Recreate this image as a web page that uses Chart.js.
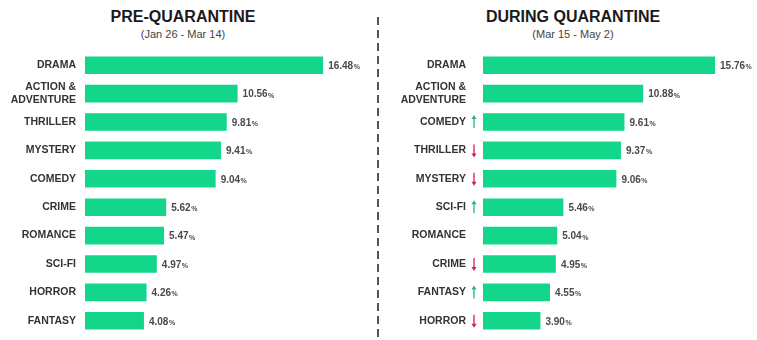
<!DOCTYPE html>
<html>
<head>
<meta charset="utf-8">
<script src="https://cdn.jsdelivr.net/npm/chart.js@4"></script>
<style>
  body { margin: 0; background: #fff; }
  #wrap { position: relative; width: 757px; height: 340px; overflow: hidden; font-family: "Liberation Sans", Arial, sans-serif; }
  canvas { position: absolute; top: 0; }
  #left { left: 0; }
  #right { left: 380px; }
  .title { position: absolute; top: 8px; font-weight: bold; font-size: 16px; color: #1a1a1a; text-align: center; width: 300px; }
  .sub { position: absolute; top: 28px; font-size: 11px; color: #444; text-align: center; width: 300px; }
  #divider { position: absolute; left: 377px; top: 17px; width: 2px; height: 323px;
    background: repeating-linear-gradient(to bottom, #555 0 8px, transparent 8px 13px); }
</style>
</head>
<body>
<div id="wrap">
  <div class="title" style="left:33px">PRE-QUARANTINE</div>
  <div class="sub" style="left:33px">(Jan 26 - Mar 14)</div>
  <div class="title" style="left:423px">DURING QUARANTINE</div>
  <div class="sub" style="left:423px">(Mar 15 - May 2)</div>
  <div id="divider"></div>
  <canvas id="left" width="379" height="340"></canvas>
  <canvas id="right" width="377" height="340"></canvas>
</div>
<script>
// Share of viewing by genre, before and during quarantine
const preGenres = ['DRAMA', ['ACTION &', 'ADVENTURE'], 'THRILLER', 'MYSTERY', 'COMEDY', 'CRIME', 'ROMANCE', 'SCI-FI', 'HORROR', 'FANTASY'];
const preValues = [16.48, 10.56, 9.81, 9.41, 9.04, 5.62, 5.47, 4.97, 4.26, 4.08];

const duringGenres = ['DRAMA', ['ACTION &', 'ADVENTURE'], 'COMEDY', 'THRILLER', 'MYSTERY', 'SCI-FI', 'ROMANCE', 'CRIME', 'FANTASY', 'HORROR'];
const duringValues = [15.76, 10.88, 9.61, 9.37, 9.06, 5.46, 5.04, 4.95, 4.55, 3.90];
// 1 = moved up in rank, -1 = moved down, 0 = no marker
const duringTrend = [0, 0, 1, -1, -1, 1, 0, -1, 1, -1];

const BAR = '#14d68b';
const FONT = '"Liberation Sans", Arial, sans-serif';

// value text after each bar, with a smaller percent sign
const valueLabels = {
  id: 'valueLabels',
  afterDatasetsDraw(chart) {
    const ctx = chart.ctx;
    const meta = chart.getDatasetMeta(0);
    const data = chart.data.datasets[0].data;
    ctx.save();
    ctx.textBaseline = 'middle';
    ctx.fillStyle = '#4a4a4a';
    meta.data.forEach((bar, i) => {
      const txt = data[i].toFixed(2);
      const x = bar.x + 5;
      const y = bar.y + 1;
      ctx.font = 'bold 10px ' + FONT;
      ctx.fillText(txt, x, y);
      const w = ctx.measureText(txt).width;
      ctx.font = 'bold 7px ' + FONT;
      ctx.fillText('%', x + w + 0.5, y + 1);
    });
    ctx.restore();
  }
};

// up/down arrows between the genre name and the bar
const trendArrows = {
  id: 'trendArrows',
  afterDatasetsDraw(chart, args, opts) {
    if (!opts.trend) return;
    const ctx = chart.ctx;
    const meta = chart.getDatasetMeta(0);
    const x = chart.chartArea.left - 9;
    ctx.save();
    ctx.lineWidth = 1.3;
    meta.data.forEach((bar, i) => {
      const t = opts.trend[i];
      if (!t) return;
      const col = t > 0 ? '#1fb58c' : '#d41d55';
      const tip = bar.y - t * 7;
      const tail = bar.y + t * 6;
      ctx.strokeStyle = col;
      ctx.fillStyle = col;
      ctx.beginPath();
      ctx.moveTo(x, tail);
      ctx.lineTo(x, tip + t * 3);
      ctx.stroke();
      ctx.beginPath();
      ctx.moveTo(x, tip);
      ctx.lineTo(x - 2.5, tip + t * 4);
      ctx.lineTo(x + 2.5, tip + t * 4);
      ctx.closePath();
      ctx.fill();
    });
    ctx.restore();
  }
};

function makeChart(id, labels, values, opts) {
  return new Chart(document.getElementById(id).getContext('2d'), {
    type: 'bar',
    data: {
      labels: labels,
      datasets: [{
        data: values,
        backgroundColor: BAR,
        barPercentage: 0.62,
        categoryPercentage: 1
      }]
    },
    options: {
      indexAxis: 'y',
      responsive: false,
      animation: false,
      layout: { padding: { top: 51, bottom: 5, right: opts.padRight } },
      plugins: {
        legend: { display: false },
        tooltip: { enabled: false },
        trendArrows: { trend: opts.trend }
      },
      scales: {
        x: { display: false, min: 0, max: opts.max },
        y: {
          grid: { display: false, drawTicks: false },
          border: { display: false },
          afterFit(scale) {
            scale.width = opts.axisWidth;
            scale.paddingTop = 0;
            scale.paddingBottom = 0;
          },
          ticks: {
            padding: opts.tickPad,
            color: '#333',
            font: { family: FONT, size: 10.5, weight: 'bold', lineHeight: 1.15 }
          }
        }
      }
    },
    plugins: [valueLabels, trendArrows]
  });
}

makeChart('left', preGenres, preValues, { max: 20, padRight: 5, axisWidth: 85, tickPad: 9 });
makeChart('right', duringGenres, duringValues, { max: 18, padRight: 9, axisWidth: 103, tickPad: 17, trend: duringTrend });
</script>
</body>
</html>
